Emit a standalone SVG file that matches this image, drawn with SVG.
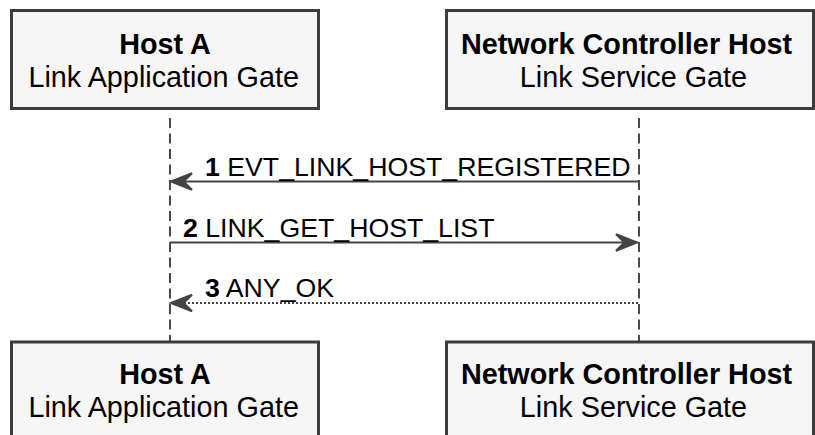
<svg xmlns="http://www.w3.org/2000/svg" width="815" height="435" viewBox="0 0 815 435">
  <style>
    .box { fill: #f6f6f6; stroke: #3c3c3c; stroke-width: 3; }
    .title { font-family: "Liberation Sans", Arial, sans-serif; font-size: 28.8px; font-weight: bold; fill: #000; text-anchor: middle; }
    .sub { font-family: "Liberation Sans", Arial, sans-serif; font-size: 28.8px; fill: #000; text-anchor: middle; }
    .life { stroke: #4a4a4a; stroke-width: 2; stroke-dasharray: 10 5.5; fill: none; }
    .msg { stroke: #444; stroke-width: 2; fill: none; }
    .dotted { stroke-dasharray: 2 2; }
    .head { fill: #444; stroke: #444; stroke-width: 2; stroke-linejoin: miter; }
    .label { font-family: "Liberation Sans", Arial, sans-serif; font-size: 26.7px; fill: #000; }
    .num { font-weight: bold; }
  </style>

  <!-- lifelines -->
  <g id="lifelines">
    <line class="life" x1="170" y1="118" x2="170" y2="341"/>
    <line class="life" x1="639" y1="118" x2="639" y2="341"/>
  </g>

  <!-- participant heads -->
  <g id="host-a-head">
    <rect class="box" x="11.5" y="10.5" width="307" height="98"/>
    <text class="title" x="165" y="54">Host A</text>
    <text class="sub" x="163.7" y="87">Link Application Gate</text>
  </g>
  <g id="controller-head">
    <rect class="box" x="446.5" y="10.5" width="367" height="98"/>
    <text class="title" x="626.5" y="54">Network Controller Host</text>
    <text class="sub" x="633.5" y="87">Link Service Gate</text>
  </g>

  <!-- participant tails -->
  <g id="host-a-tail">
    <rect class="box" x="11.5" y="342" width="307" height="98"/>
    <text class="title" x="165" y="384">Host A</text>
    <text class="sub" x="163.7" y="417">Link Application Gate</text>
  </g>
  <g id="controller-tail">
    <rect class="box" x="446.5" y="342" width="367" height="98"/>
    <text class="title" x="626.5" y="384">Network Controller Host</text>
    <text class="sub" x="633.5" y="417">Link Service Gate</text>
  </g>

  <!-- messages -->
  <g id="connectors">
    <g id="msg-1">
      <line class="msg" x1="639" y1="181.5" x2="174" y2="181.5"/>
      <polygon class="head" points="171,181.5 192,173.3 183.5,181.5 192,189.7"/>
      <text class="label" x="205" y="176"><tspan class="num">1</tspan> EVT_LINK_HOST_REGISTERED</text>
    </g>
    <g id="msg-2">
      <line class="msg" x1="170" y1="242.5" x2="634" y2="242.5"/>
      <polygon class="head" points="637,242.5 616,234.3 624.5,242.5 616,250.7"/>
      <text class="label" x="183" y="236.5"><tspan class="num">2</tspan> LINK_GET_HOST_LIST</text>
    </g>
    <g id="msg-3">
      <line class="msg dotted" x1="638" y1="303" x2="174" y2="303"/>
      <polygon class="head" points="171,303 192,294.8 183.5,303 192,311.2"/>
      <text class="label" x="205" y="297"><tspan class="num">3</tspan> ANY_OK</text>
    </g>
  </g>
</svg>
